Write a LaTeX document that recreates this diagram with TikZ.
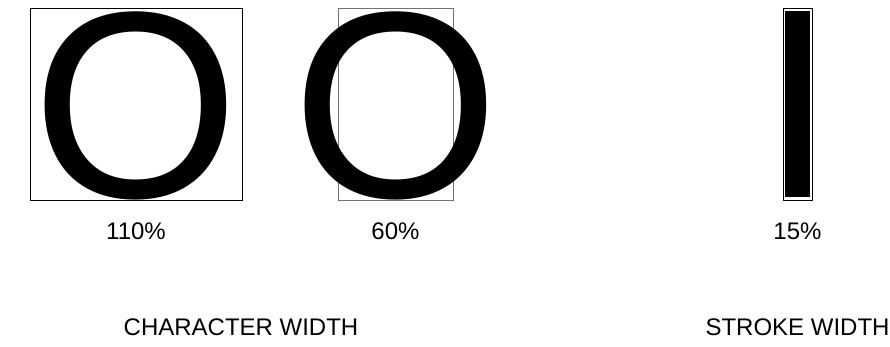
\documentclass[tikz,border=0pt]{standalone}
\usepackage{fontspec}
\setmainfont{Liberation Sans}
\usepackage{tikz}
\usetikzlibrary{positioning}
\tikzset{
  framebox/.style={rectangle, draw=black, line width=0.9pt, inner sep=0pt,
    minimum height=192pt},
  greybox/.style={framebox, draw=black!55},
  strokebar/.style={rectangle, fill=black, inner sep=0pt,
    minimum width=24.5pt, minimum height=186pt},
  bigletter/.style={inner sep=0pt, anchor=base,
    font=\fontsize{266}{266}\selectfont},
  caption/.style={inner sep=0pt, anchor=base,
    font=\fontsize{24}{28}\selectfont}
}

\begin{document}
\begin{tikzpicture}[x=1pt, y=-1pt]
  \useasboundingbox (0,0) rectangle (890,346);

  % Character width boxes
  \node[framebox, minimum width=212pt] (widebox) at (136,104) {};
  \node[greybox, minimum width=115pt] (narrowbox) at (395.5,104) {};

  % Letters
  \node[bigletter] (wideO) at (136,197) {O};
  \node[bigletter] (narrowO) at (395.5,197) {O};

  % Stroke width
  \node[framebox, minimum width=29pt] (strokebox) at (797.5,104) {};
  \node[strokebar] (stroke) at (strokebox.center) {};

  % Percentages
  \node[caption] (widepct) at (136,239) {110\%};
  \node[caption] (narrowpct) at (395.5,239) {60\%};
  \node[caption] (strokepct) at (797.5,239) {15\%};

  % Headings
  \node[caption] (charlabel) at (241,335) {CHARACTER WIDTH};
  \node[caption] (strokelabel) at (797.5,335) {STROKE WIDTH};
\end{tikzpicture}
\end{document}
